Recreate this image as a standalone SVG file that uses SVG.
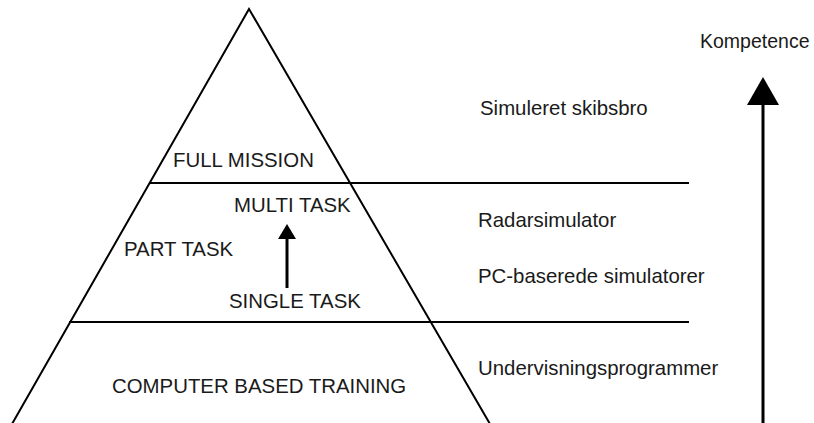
<svg xmlns="http://www.w3.org/2000/svg" width="814" height="423" viewBox="0 0 814 423">
<style>
.ln{stroke:#000;stroke-width:2;fill:none}
.ar{stroke:#000;stroke-width:3;fill:none}
.head{fill:#000}
text{font-family:"Liberation Sans",Arial,sans-serif;font-size:20.4px;fill:#1a1a1a}
.sm{font-size:19.5px}
</style>
<rect width="814" height="423" fill="#fff"/>
<g id="pyramid">
<polyline class="ln" points="12,424 249,9 490,424"/>
</g>
<g id="connectors">
<line class="ln" x1="150" y1="183" x2="689" y2="183"/>
<line class="ln" x1="69" y1="322" x2="689" y2="322"/>
<line class="ar" x1="287" y1="288" x2="287" y2="238"/>
<polygon class="head" points="278,239 287,224 296,239"/>
<line class="ar" x1="763" y1="423" x2="763" y2="104"/>
<polygon class="head" points="747,105 763,77 779,105"/>
</g>
<g id="full-mission"><text x="173" y="167">FULL MISSION</text></g>
<g id="multi-task"><text x="234" y="212">MULTI TASK</text></g>
<g id="part-task"><text x="124" y="256">PART TASK</text></g>
<g id="single-task"><text x="229" y="308">SINGLE TASK</text></g>
<g id="cbt"><text x="112" y="393">COMPUTER BASED TRAINING</text></g>
<g id="kompetence"><text class="sm" x="700" y="48">Kompetence</text></g>
<g id="simuleret"><text x="480" y="115">Simuleret skibsbro</text></g>
<g id="radar"><text x="478" y="227">Radarsimulator</text></g>
<g id="pc"><text x="478" y="283">PC-baserede simulatorer</text></g>
<g id="underv"><text x="478" y="375">Undervisningsprogrammer</text></g>
</svg>
